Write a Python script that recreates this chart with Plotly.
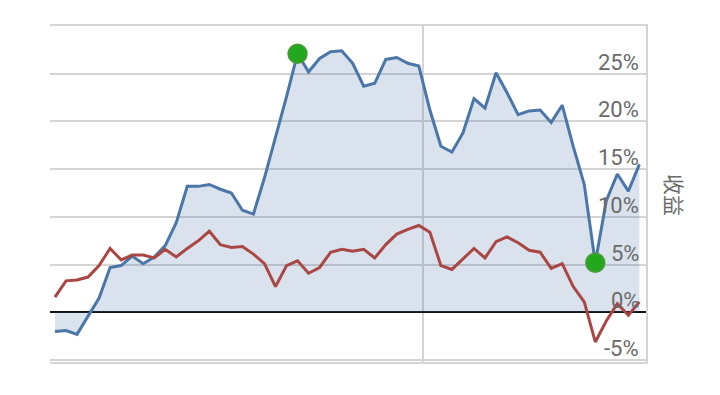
import plotly.graph_objects as go

# Data, returns in %
idx = list(range(54))
strategy = [-2.0, -1.9, -2.3, -0.4, 1.5, 4.7, 4.9, 5.9, 5.1, 5.8,
            7.0, 9.4, 13.2, 13.2, 13.4, 12.9, 12.5, 10.7, 10.3, 14.1,
            18.3, 22.6, 27.1, 25.2, 26.6, 27.3, 27.4, 26.1, 23.7, 24.0,
            26.5, 26.7, 26.1, 25.8, 21.2, 17.4, 16.8, 18.8, 22.4, 21.4,
            25.1, 23.0, 20.7, 21.1, 21.2, 19.9, 21.7, 17.4, 13.4, 5.2,
            11.7, 14.5, 12.7, 15.5]
benchmark = [1.6, 3.3, 3.4, 3.7, 4.9, 6.7, 5.5, 6.0, 6.0, 5.7,
             6.6, 5.8, 6.7, 7.5, 8.5, 7.1, 6.8, 6.9, 6.1, 5.1,
             2.7, 4.9, 5.4, 4.1, 4.7, 6.3, 6.6, 6.4, 6.6, 5.7,
             7.1, 8.2, 8.7, 9.1, 8.4, 4.9, 4.5, 5.6, 6.7, 5.7,
             7.4, 7.9, 7.3, 6.5, 6.3, 4.6, 5.1, 2.7, 1.1, -3.1,
             -0.9, 0.9, -0.3, 1.1]
marker_idx = [22, 49]
tick_vals = [-5, 0, 5, 10, 15, 20, 25]
tick_text = ["-5%", "0%", "5%", "10%", "15%", "20%", "25%"]
x_grid = [33.4]
axis_title = "收益"

fig = go.Figure()
fig.add_trace(go.Scatter(x=idx, y=strategy, mode="lines", fill="tozeroy",
                         fillcolor="rgba(69,114,167,0.2)",
                         line=dict(color="#4a76a8", width=3), hoverinfo="skip"))
fig.add_trace(go.Scatter(x=idx, y=benchmark, mode="lines",
                         line=dict(color="#aa4643", width=3), hoverinfo="skip"))
fig.add_trace(go.Scatter(x=[idx[i] for i in marker_idx], y=[strategy[i] for i in marker_idx],
                         mode="markers",
                         marker=dict(color="#22a81c", size=19,
                                     line=dict(color="#4e9a3e", width=1.5)),
                         hoverinfo="skip"))

for v, t in zip(tick_vals, tick_text):
    fig.add_annotation(x=1, xref="paper", xanchor="right", xshift=-5,
                       y=v, yref="y", yanchor="bottom", yshift=-3,
                       text=t, showarrow=False,
                       font=dict(family="Roboto", size=22, color="#6a6a6a"))

fig.add_annotation(x=1, xref="paper", xanchor="center", xshift=29,
                   y=0.5, yref="paper", yshift=-1, text=axis_title, textangle=90,
                   showarrow=False, font=dict(family="Noto Sans CJK SC", size=21, color="#6a6a6a"))

fig.update_layout(
    width=720, height=395, margin=dict(l=50, r=74, t=26, b=33),
    paper_bgcolor="white", plot_bgcolor="white", showlegend=False,
    xaxis=dict(range=[-0.45, 53.6], tickvals=x_grid, showticklabels=False,
               showgrid=True, gridcolor="#d4d4d4", gridwidth=1.5,
               showline=True, mirror=True, linecolor="#d4d4d4", linewidth=2,
               zeroline=False, ticks=""),
    yaxis=dict(range=[-5.2, 30], side="right", tickvals=tick_vals + [30],
               showticklabels=False, showgrid=True, gridcolor="#d4d4d4", gridwidth=1.5,
               zeroline=True, zerolinecolor="#111111", zerolinewidth=2,
               showline=True, linecolor="#d4d4d4", linewidth=2, ticks=""),
)

fig.write_html("out.html")
